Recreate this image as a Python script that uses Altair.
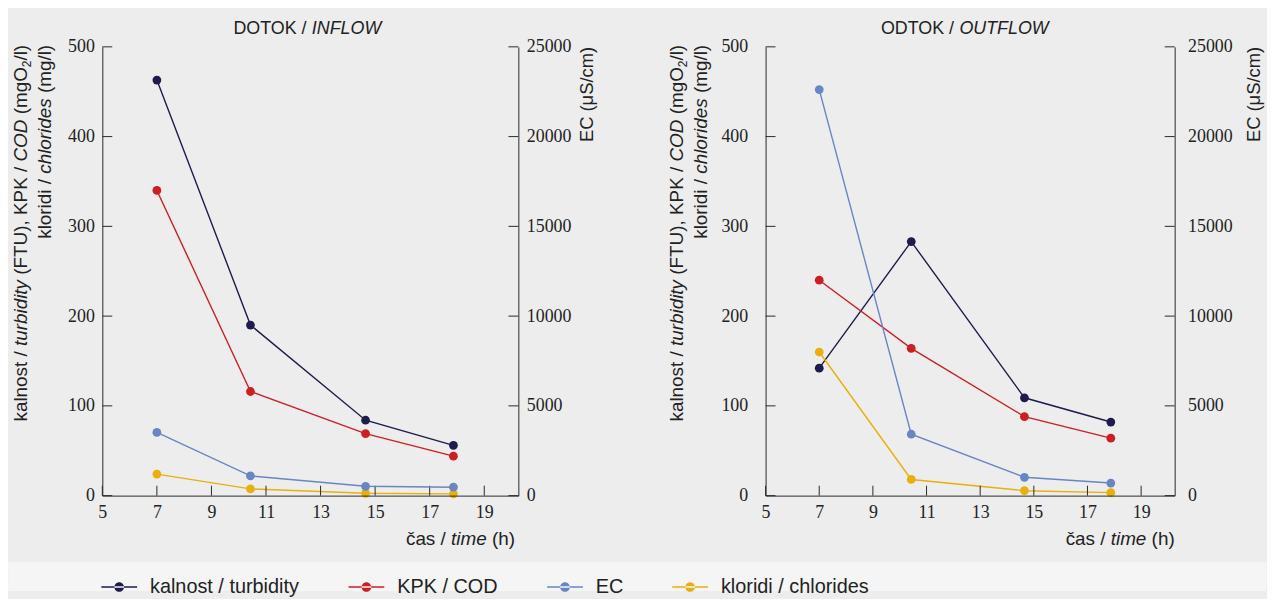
import altair as alt
import pandas as pd

# ---------------- data ----------------
times = [7.0, 10.43, 14.65, 17.87]
series_names = ["kalnost / turbidity", "KPK / COD", "EC", "kloridi / chlorides"]
series_colors = ["#1e1b4d", "#cc1f24", "#6885c4", "#e8b00c"]

turb_in = [463, 190, 84, 56]
cod_in = [340, 116, 69, 44]
ec_in = [3520, 1100, 520, 470]
chl_in = [24, 7.5, 2.6, 2.0]

turb_out = [142, 283, 109, 82]
cod_out = [240, 164, 88, 64]
ec_out = [22620, 3420, 1020, 700]
chl_out = [160, 18, 5.5, 3.3]

x_ticks = [5, 7, 9, 11, 13, 15, 17, 19]
left_ticks = [0, 100, 200, 300, 400, 500]
right_ticks = [0, 5000, 10000, 15000, 20000, 25000]

# ---------------- styling ----------------
FONT = "Liberation Sans"
NARROW = "Liberation Sans Narrow"
TXT = "#222222"
AXC = "#2a2a2a"
H = 452
X_DOMAIN = [5, 20.25]

# Arial / Liberation Sans advance widths (1/1000 em)
CW = {" ": 278, "(": 333, ")": 333, ",": 278, "/": 278,
      "a": 556, "b": 556, "c": 500, "d": 556, "e": 556, "g": 556, "h": 556,
      "i": 222, "k": 500, "l": 222, "m": 833, "n": 556, "o": 556, "r": 333,
      "s": 500, "t": 278, "u": 556, "y": 500, "č": 500,
      "C": 722, "D": 722, "E": 667, "F": 611, "I": 278, "K": 667, "L": 556,
      "N": 722, "O": 778, "P": 667, "S": 667, "T": 611, "U": 722, "W": 944,
      "μ": 576}

one = pd.DataFrame({"k": [0]})


def seg_w(text, size):
    return sum(CW.get(ch, 556) for ch in text) * size / 1000.0


def text_run(segs, size, ax, ay, align, vertical):
    """segs: list of (text, italic, size_override, shift)"""
    full = []
    for s in segs:
        t, it = s[0], s[1]
        sz = s[2] if len(s) > 2 and s[2] else size
        sh = s[3] if len(s) > 3 else 0
        full.append((t, it, sz, sh))
    total = sum(seg_w(t, sz) for t, it, sz, sh in full)
    start = {"left": 0.0, "right": -total, "center": -total / 2}[align]
    cum = start
    layers = []
    for t, it, sz, sh in full:
        lead = len(t) - len(t.lstrip(" "))
        pos = cum + lead * 278 * sz / 1000.0
        txt = t.strip()
        if vertical:
            x, y = ax + sh, ay - pos
        else:
            x, y = ax + pos, ay + sh
        layers.append(
            alt.Chart(one).mark_text(
                text=txt, align="left", baseline="alphabetic",
                angle=270 if vertical else 0, font=FONT, fontSize=sz,
                fontStyle="italic" if it else "normal", color=TXT,
            ).encode(x=alt.value(x), y=alt.value(y))
        )
        cum += seg_w(t, sz)
    return layers


color_scale = alt.Scale(domain=series_names, range=series_colors)
LEGEND_SYMBOL = ("M-1,-0.045H1V0.045H-1Z "
                 "M-0.27,0A0.27,0.27 0 1,0 0.27,0A0.27,0.27 0 1,0 -0.27,0Z")
legend = alt.Legend(
    orient="none", legendX=-1, legendY=526, direction="horizontal", title=None,
    symbolType=LEGEND_SYMBOL, symbolSize=1296, symbolStrokeWidth=0,
    symbolOpacity=1, labelFont=FONT, labelFontSize=20, labelColor=TXT,
    labelOffset=13, columnPadding=49, labelLimit=400,
)
COLOR = alt.Color("series:N", scale=color_scale, legend=legend)


def panel(p):
    W = p["W"]
    x_axis = alt.Axis(values=x_ticks, title=None, grid=False, ticks=False, tickSize=0,
                      domainColor=AXC, domainWidth=1, labelFont=NARROW, labelFontSize=18,
                      labelColor=TXT, labelPadding=8, zindex=1, labelFlush=False,
                      labelOverlap=False, format="d")
    yl_axis = alt.Axis(orient="left", values=left_ticks, title=None, grid=False, ticks=False,
                       tickSize=0, domainColor=AXC, domainWidth=1, labelFont=NARROW,
                       labelFontSize=18, labelColor=TXT, labelPadding=p["lp"], zindex=1,
                       labelFlush=False, labelOverlap=False, format="d")
    yr_axis = alt.Axis(orient="right", values=right_ticks, title=None, grid=False, ticks=False,
                       tickSize=0, domainColor=AXC, domainWidth=1, labelFont=NARROW,
                       labelFontSize=18, labelColor=TXT, labelPadding=p["rp"], zindex=1,
                       labelFlush=False, labelOverlap=False, format="d")
    xs = alt.Scale(domain=X_DOMAIN, nice=False, zero=False)
    yls = alt.Scale(domain=[0, 500], nice=False)
    yrs = alt.Scale(domain=[0, 25000], nice=False)

    rows = []
    for name, vals in [(series_names[0], p["turb"]), (series_names[1], p["cod"]),
                       (series_names[3], p["chl"])]:
        for t, v in zip(times, vals):
            rows.append({"time": t, "value": v, "series": name})
    left_df = pd.DataFrame(rows)
    ec_df = pd.DataFrame({"time": times, "value": p["ec"], "series": series_names[2]})

    X = alt.X("time:Q", scale=xs, axis=x_axis)
    YL = alt.Y("value:Q", scale=yls, axis=yl_axis)
    YR = alt.Y("value:Q", scale=yrs, axis=yr_axis)

    l_line = alt.Chart(left_df).mark_line(strokeWidth=1.4).encode(x=X, y=YL, color=COLOR)
    l_pts = alt.Chart(left_df).mark_circle(size=78, opacity=1).encode(x=X, y=YL, color=COLOR)
    l_ticks = alt.Chart(pd.DataFrame({"value": left_ticks})).mark_rule(
        color=AXC, strokeWidth=1).encode(y=YL, x=alt.value(0), x2=alt.value(10))
    x_tk = alt.Chart(pd.DataFrame({"time": x_ticks})).mark_rule(
        color=AXC, strokeWidth=1).encode(x=X, y=alt.value(H), y2=alt.value(H - 10))
    left_group = alt.layer(l_line, l_pts, l_ticks, x_tk)

    e_line = alt.Chart(ec_df).mark_line(strokeWidth=1.4).encode(x=X, y=YR, color=COLOR)
    e_pts = alt.Chart(ec_df).mark_circle(size=78, opacity=1).encode(x=X, y=YR, color=COLOR)
    r_ticks = alt.Chart(pd.DataFrame({"value": right_ticks})).mark_rule(
        color=AXC, strokeWidth=1).encode(y=YR, x=alt.value(W - 10), x2=alt.value(W))
    ec_group = alt.layer(e_line, e_pts, r_ticks)

    texts = []
    texts += text_run([(p["t1"], False), (p["t2"], True)], 18,
                      W / 2 + p["tdx"], -13.3, "center", False)
    texts += text_run([("kalnost / ", False), ("turbidity", True), (" (FTU), KPK / ", False),
                       ("COD", True), (" (mgO", False), ("2", False, 12, 4), ("/l)", False)],
                      19, p["l1x"], -2, "right", True)
    texts += text_run([("kloridi / ", False), ("chlorides", True), (" (mg/l)", False)],
                      19, p["l2x"], -2, "right", True)
    texts += text_run([("čas / ", False), ("time", True), (" (h)", False)],
                      19, W + p["xtx"], H + 49.5, "right", False)
    texts += text_run([("EC (μS/cm)", False)], 18.5, W + p["ecx"], 0, "right", True)

    layers = []
    if p.get("bg"):
        layers.append(alt.Chart(one).mark_rect(color="#ededed").encode(
            x=alt.value(-94.7), x2=alt.value(1172.3), y=alt.value(-37), y2=alt.value(548)))
        layers.append(alt.Chart(one).mark_rect(color="#f5f5f5").encode(
            x=alt.value(-94.7), x2=alt.value(1172.3), y=alt.value(519), y2=alt.value(548)))
    layers += [left_group, ec_group] + texts
    return alt.layer(*layers).resolve_scale(y="independent").properties(width=W, height=H)


left = panel(dict(W=419, turb=turb_in, cod=cod_in, ec=ec_in, chl=chl_in,
                  t1="DOTOK / ", t2="INFLOW", tdx=-3, lp=8, rp=8,
                  l1x=-75.7, l2x=-51.7, xtx=-3.4, ecx=75.5, bg=True))
right = panel(dict(W=412, turb=turb_out, cod=cod_out, ec=ec_out, chl=chl_out,
                   t1="ODTOK / ", t2="OUTFLOW", tdx=-5.3, lp=18, rp=13,
                   l1x=-83, l2x=-59, xtx=0, ecx=86, bg=False))

chart = alt.hconcat(left, right, spacing=249, bounds="flush").resolve_scale(
    color="shared").properties(padding=0).configure(background="#ededed").configure_view(
    stroke=None)

chart.save("out.html", embed_options={"renderer": "svg", "actions": False})
